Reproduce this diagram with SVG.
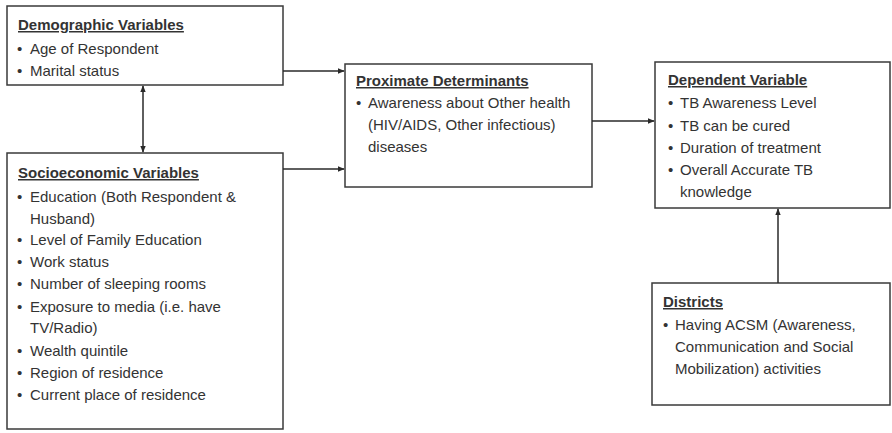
<svg xmlns="http://www.w3.org/2000/svg" width="892" height="433" viewBox="0 0 892 433">
<defs>
<marker id="ah" viewBox="0 0 10 10" refX="9" refY="5" markerWidth="7" markerHeight="7" orient="auto-start-reverse" markerUnits="userSpaceOnUse">
<path d="M0,1 L10,5 L0,9 z" fill="#2a2a2a"/>
</marker>
<style>
.box{fill:#fff;stroke:#3a3a3a;stroke-width:1.5}
.t{font-family:"Liberation Sans",Arial,sans-serif;font-size:15px;fill:#333}
.h{font-weight:bold;text-decoration:underline}
.c{stroke:#2a2a2a;stroke-width:1.5;fill:none}
</style>
</defs>
<rect width="892" height="433" fill="#fff"/>
<g id="demographic">
<rect class="box" x="7" y="6" width="276" height="79"/>
<text class="t h" x="18" y="30">Demographic Variables</text>
<text class="t" x="17" y="54">•</text><text class="t" x="30" y="54">Age of Respondent</text>
<text class="t" x="17" y="76">•</text><text class="t" x="30" y="76">Marital status</text>
</g>
<g id="socioeconomic">
<rect class="box" x="7" y="153" width="276" height="276"/>
<text class="t h" x="18" y="178">Socioeconomic Variables</text>
<text class="t" x="17" y="202">•</text><text class="t" x="30" y="202">Education (Both Respondent &amp;</text>
<text class="t" x="30" y="224">Husband)</text>
<text class="t" x="17" y="245">•</text><text class="t" x="30" y="245">Level of Family Education</text>
<text class="t" x="17" y="267">•</text><text class="t" x="30" y="267">Work status</text>
<text class="t" x="17" y="289">•</text><text class="t" x="30" y="289">Number of sleeping rooms</text>
<text class="t" x="17" y="312">•</text><text class="t" x="30" y="312">Exposure to media (i.e. have</text>
<text class="t" x="30" y="333">TV/Radio)</text>
<text class="t" x="17" y="356">•</text><text class="t" x="30" y="356">Wealth quintile</text>
<text class="t" x="17" y="378">•</text><text class="t" x="30" y="378">Region of residence</text>
<text class="t" x="17" y="400">•</text><text class="t" x="30" y="400">Current place of residence</text>
</g>
<g id="proximate">
<rect class="box" x="345" y="64" width="247" height="123"/>
<text class="t h" x="356" y="86">Proximate Determinants</text>
<text class="t" x="356" y="108">•</text><text class="t" x="368" y="108">Awareness about Other health</text>
<text class="t" x="368" y="130">(HIV/AIDS, Other infectious)</text>
<text class="t" x="368" y="152">diseases</text>
</g>
<g id="dependent">
<rect class="box" x="655" y="62" width="235" height="146"/>
<text class="t h" x="668" y="85">Dependent Variable</text>
<text class="t" x="668" y="108">•</text><text class="t" x="680" y="108">TB Awareness Level</text>
<text class="t" x="668" y="131">•</text><text class="t" x="680" y="131">TB can be cured</text>
<text class="t" x="668" y="153">•</text><text class="t" x="680" y="153">Duration of treatment</text>
<text class="t" x="668" y="175">•</text><text class="t" x="680" y="175">Overall Accurate TB</text>
<text class="t" x="680" y="197">knowledge</text>
</g>
<g id="districts">
<rect class="box" x="652" y="283" width="238" height="122"/>
<text class="t h" x="663" y="307">Districts</text>
<text class="t" x="663" y="330">•</text><text class="t" x="675" y="330">Having ACSM (Awareness,</text>
<text class="t" x="675" y="352">Communication and Social</text>
<text class="t" x="675" y="374">Mobilization) activities</text>
</g>
<g id="connectors">
<line class="c" x1="143" y1="86" x2="143" y2="152" marker-start="url(#ah)" marker-end="url(#ah)"/>
<line class="c" x1="283" y1="71" x2="344" y2="71" marker-end="url(#ah)"/>
<line class="c" x1="283" y1="169" x2="344" y2="169" marker-end="url(#ah)"/>
<line class="c" x1="592" y1="121" x2="654" y2="121" marker-end="url(#ah)"/>
<line class="c" x1="778" y1="283" x2="778" y2="209" marker-end="url(#ah)"/>
</g>
</svg>
